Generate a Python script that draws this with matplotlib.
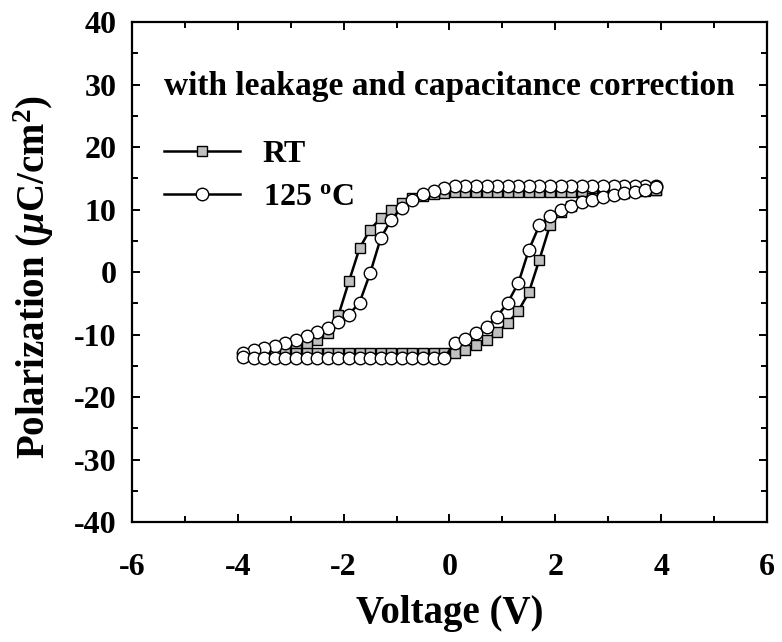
import matplotlib
matplotlib.use('Agg')
import matplotlib.pyplot as plt
from matplotlib.ticker import MultipleLocator

# voltage steps shared by both branches of each loop (V)
volts = [-3.9, -3.7, -3.5, -3.3, -3.1, -2.9, -2.7, -2.5, -2.3, -2.1,
         -1.9, -1.7, -1.5, -1.3, -1.1, -0.9, -0.7, -0.5, -0.3, -0.1,
         0.1, 0.3, 0.5, 0.7, 0.9, 1.1, 1.3, 1.5, 1.7, 1.9,
         2.1, 2.3, 2.5, 2.7, 2.9, 3.1, 3.3, 3.5, 3.7, 3.9]

# room temperature loop (uC/cm^2), upper branch = sweep down, lower branch = sweep up
p_rt_upper = [-13.5, -13.3, -13.1, -12.9, -12.6, -12.2, -11.7, -10.9, -9.8, -6.95,
              -1.5, 3.8, 6.8, 8.6, 9.9, 11.0, 11.8, 12.2, 12.5, 12.7,
              12.8, 12.8, 12.8, 12.8, 12.8, 12.8, 12.8, 12.8, 12.8, 12.8,
              12.8, 12.8, 12.8, 12.9, 13.0, 13.0, 13.1, 13.1, 13.2, 13.2]
p_rt_lower = [-13.5, -13.0, -12.9, -12.9, -12.9, -12.9, -12.9, -12.9, -12.9, -12.9,
              -12.9, -12.9, -12.9, -12.9, -12.9, -12.9, -12.9, -12.9, -12.9, -12.9,
              -13.0, -12.4, -11.7, -10.8, -9.65, -8.15, -6.25, -3.25, 2.0, 7.5,
              9.6, 10.6, 11.3, 11.8, 12.2, 12.5, 12.7, 12.9, 13.0, 13.2]

# 125 C loop (uC/cm^2)
p_hot_upper = [-13.0, -12.5, -12.1, -11.8, -11.35, -10.85, -10.3, -9.65, -8.9, -8.0,
               -6.8, -4.9, -0.2, 5.4, 8.4, 10.3, 11.5, 12.5, 13.0, 13.5,
               13.8, 13.8, 13.8, 13.8, 13.8, 13.8, 13.8, 13.8, 13.8, 13.8,
               13.8, 13.8, 13.8, 13.8, 13.8, 13.8, 13.8, 13.8, 13.8, 13.7]
p_hot_lower = [-13.6, -13.7, -13.7, -13.7, -13.7, -13.7, -13.7, -13.7, -13.7, -13.7,
               -13.7, -13.7, -13.7, -13.7, -13.7, -13.7, -13.7, -13.7, -13.7, -13.7,
               -11.4, -10.7, -9.8, -8.75, -7.15, -4.9, -1.8, 3.55, 7.5, 9.0,
               9.9, 10.6, 11.25, 11.6, 11.95, 12.3, 12.6, 12.85, 13.2, 13.6]

x_ticks = [-6, -4, -2, 0, 2, 4, 6]
y_ticks = [-40, -30, -20, -10, 0, 10, 20, 30, 40]

plt.rcParams['font.family'] = 'Liberation Serif'
plt.rcParams['font.weight'] = 'bold'
plt.rcParams['axes.unicode_minus'] = False  # plain hyphen on negative ticks
plt.rcParams['mathtext.fontset'] = 'custom'
plt.rcParams['mathtext.rm'] = 'Liberation Serif:bold'
plt.rcParams['mathtext.it'] = 'Liberation Serif:italic:bold'


def loop(upper, lower):
    # sweep down along the upper branch, then back up along the lower one
    x = volts[::-1] + volts
    y = upper[::-1] + lower
    return x, y


fig = plt.figure(figsize=(7.82, 6.42), dpi=100)
ax = fig.add_axes([0.1688, 0.1869, 0.812, 0.7788])

x_rt, y_rt = loop(p_rt_upper, p_rt_lower)
x_hot, y_hot = loop(p_hot_upper, p_hot_lower)

ax.plot(x_rt, y_rt, color='black', lw=1.8, marker='s', ms=7.8,
        mfc='#c0c0c0', mec='black', mew=1.0, label='RT')
ax.plot(x_hot, y_hot, color='black', lw=1.8, marker='o', ms=9.0,
        mfc='white', mec='black', mew=1.0, label=r'125 $^\mathrm{o}$C')

ax.set_xlim(-6, 6)
ax.set_ylim(-40, 40)
ax.set_xticks(x_ticks)
ax.set_yticks(y_ticks)
ax.xaxis.set_minor_locator(MultipleLocator(1))
ax.yaxis.set_minor_locator(MultipleLocator(5))
ax.tick_params(which='both', direction='in', top=True, right=True, width=1.4)
ax.tick_params(which='major', length=6)
ax.tick_params(which='minor', length=4)
ax.tick_params(axis='x', labelsize=23, pad=22)
ax.tick_params(axis='y', labelsize=23, pad=11)
for s in ax.spines.values():
    s.set_linewidth(1.6)

ax.set_xlabel('Voltage (V)', fontsize=28, fontweight='bold')
ax.set_ylabel(r'Polarization ($\mu$C/cm$^2$)', fontsize=28, fontweight='bold')
ax.xaxis.set_label_coords(0.5, -0.145)
ax.yaxis.set_label_coords(-0.12, 0.49)

ax.text(0.0, 29.7, 'with leakage and capacitance correction', fontsize=24,
        fontweight='bold', ha='center', va='center')

ax.legend(loc='upper left', bbox_to_anchor=(0.03, 0.79), frameon=False,
          fontsize=23, handlelength=2.4, handletextpad=0.7, labelspacing=0.42,
          borderaxespad=0)

plt.savefig('out.png', dpi=100)
